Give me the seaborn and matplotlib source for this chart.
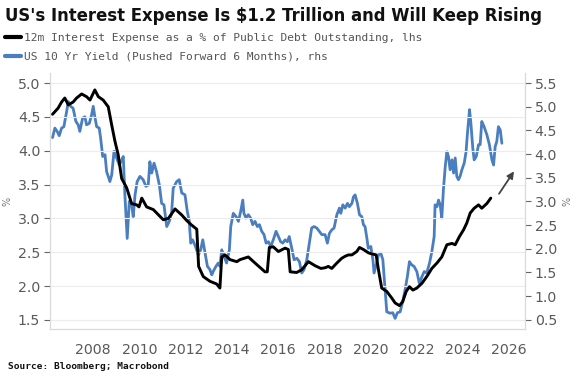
import matplotlib
matplotlib.use("Agg")
import matplotlib.pyplot as plt
import seaborn as sns
import pandas as pd
from matplotlib.lines import Line2D

# ---------------- data ----------------
black_years = [2006.24, 2006.48, 2006.63, 2006.77, 2006.92, 2007.13, 2007.28, 2007.50, 2007.71, 2007.86,
               2008.07, 2008.22, 2008.43, 2008.65, 2008.80, 2008.94, 2009.08, 2009.23, 2009.45, 2009.66,
               2009.88, 2009.98, 2010.10, 2010.31, 2010.60, 2011.03, 2011.25, 2011.54, 2011.83, 2012.04,
               2012.26, 2012.48, 2012.56, 2012.76, 2013.05, 2013.34, 2013.48, 2013.56, 2013.70, 2013.92,
               2014.21, 2014.35, 2014.71, 2015.00, 2015.43, 2015.53, 2015.62, 2015.79, 2016.01, 2016.30,
               2016.44, 2016.52, 2016.80, 2017.02, 2017.31, 2017.60, 2017.85, 2018.03, 2018.17, 2018.32,
               2018.54, 2018.75, 2018.90, 2019.04, 2019.19, 2019.40, 2019.52, 2019.69, 2019.91, 2020.12,
               2020.24, 2020.34, 2020.48, 2020.70, 2020.92, 2021.06, 2021.25, 2021.39, 2021.54, 2021.68,
               2021.83, 2022.00, 2022.22, 2022.43, 2022.65, 2022.87, 2023.08, 2023.30, 2023.52, 2023.66,
               2023.84, 2024.02, 2024.16, 2024.31, 2024.48, 2024.67, 2024.81, 2025.03, 2025.20]
black_values = [4.54, 4.63, 4.72, 4.78, 4.68, 4.72, 4.78, 4.84, 4.80, 4.75,
                4.90, 4.80, 4.75, 4.65, 4.38, 4.14, 3.94, 3.59, 3.45, 3.22,
                3.20, 3.17, 3.30, 3.17, 3.13, 2.98, 3.00, 3.14, 3.05, 2.97,
                2.90, 2.84, 2.29, 2.14, 2.07, 2.03, 1.97, 2.43, 2.46, 2.39,
                2.36, 2.39, 2.43, 2.34, 2.21, 2.21, 2.57, 2.58, 2.51, 2.56,
                2.54, 2.21, 2.20, 2.24, 2.36, 2.30, 2.26, 2.27, 2.29, 2.26,
                2.34, 2.41, 2.44, 2.46, 2.46, 2.51, 2.57, 2.54, 2.49, 2.47,
                2.46, 2.24, 1.97, 1.92, 1.82, 1.75, 1.71, 1.77, 1.92, 1.99,
                1.94, 1.97, 2.04, 2.14, 2.26, 2.34, 2.43, 2.61, 2.63, 2.61,
                2.73, 2.83, 2.93, 3.08, 3.15, 3.20, 3.15, 3.22, 3.30]

blue_years = [2006.24, 2006.34, 2006.44, 2006.53, 2006.63, 2006.73, 2006.85, 2006.92, 2007.02, 2007.13,
              2007.25, 2007.35, 2007.42, 2007.54, 2007.64, 2007.71, 2007.83, 2007.93, 2008.00, 2008.07,
              2008.15, 2008.26, 2008.32, 2008.41, 2008.51, 2008.58, 2008.65, 2008.72, 2008.80, 2008.90,
              2009.01, 2009.13, 2009.23, 2009.30, 2009.37, 2009.47, 2009.56, 2009.66, 2009.73, 2009.81,
              2009.90, 2010.02, 2010.16, 2010.28, 2010.38, 2010.45, 2010.53, 2010.63, 2010.74, 2010.86,
              2010.96, 2011.06, 2011.18, 2011.29, 2011.39, 2011.46, 2011.61, 2011.72, 2011.83, 2011.97,
              2012.07, 2012.15, 2012.22, 2012.30, 2012.40, 2012.55, 2012.65, 2012.74, 2012.84, 2012.94,
              2013.05, 2013.13, 2013.19, 2013.31, 2013.41, 2013.48, 2013.56, 2013.66, 2013.77, 2013.89,
              2013.95, 2014.06, 2014.18, 2014.28, 2014.38, 2014.47, 2014.52, 2014.61, 2014.71, 2014.81,
              2014.90, 2015.00, 2015.10, 2015.19, 2015.29, 2015.39, 2015.48, 2015.58, 2015.68, 2015.79,
              2015.91, 2016.01, 2016.11, 2016.20, 2016.30, 2016.40, 2016.48, 2016.59, 2016.69, 2016.81,
              2016.92, 2017.02, 2017.12, 2017.24, 2017.35, 2017.45, 2017.55, 2017.67, 2017.78, 2017.89,
              2018.03, 2018.13, 2018.22, 2018.32, 2018.42, 2018.54, 2018.65, 2018.71, 2018.80, 2018.90,
              2019.00, 2019.08, 2019.19, 2019.26, 2019.33, 2019.43, 2019.52, 2019.62, 2019.69, 2019.76,
              2019.84, 2019.90, 2020.01, 2020.10, 2020.15, 2020.24, 2020.34, 2020.44, 2020.53, 2020.63,
              2020.70, 2020.84, 2020.96, 2021.06, 2021.16, 2021.28, 2021.39, 2021.49, 2021.59, 2021.68,
              2021.78, 2021.88, 2022.00, 2022.11, 2022.22, 2022.32, 2022.43, 2022.55, 2022.65, 2022.75,
              2022.79, 2022.87, 2022.94, 2023.01, 2023.08, 2023.15, 2023.23, 2023.30, 2023.37, 2023.44,
              2023.52, 2023.59, 2023.66, 2023.73, 2023.80, 2023.87, 2023.95, 2024.05, 2024.13, 2024.19,
              2024.28, 2024.34, 2024.42, 2024.48, 2024.57, 2024.67, 2024.74, 2024.81, 2024.91, 2025.03,
              2025.14, 2025.25, 2025.32, 2025.39, 2025.46, 2025.53, 2025.61, 2025.68]
blue_values = [4.35, 4.55, 4.48, 4.39, 4.55, 4.58, 4.90, 5.11, 5.01, 4.97,
               4.69, 4.62, 4.48, 4.76, 4.79, 4.62, 4.65, 4.83, 5.01, 4.79,
               4.58, 4.55, 4.34, 3.95, 3.99, 3.63, 3.53, 3.42, 3.56, 4.06,
               3.92, 3.77, 3.88, 3.95, 3.14, 2.22, 3.00, 2.93, 2.68, 3.14,
               3.42, 3.53, 3.46, 3.32, 3.35, 3.84, 3.60, 3.81, 3.63, 3.35,
               2.96, 2.93, 2.47, 2.58, 2.75, 3.28, 3.42, 3.46, 3.18, 3.14,
               2.79, 2.60, 2.12, 2.19, 2.08, 1.87, 1.98, 2.19, 1.91, 1.63,
               1.56, 1.45, 1.52, 1.63, 1.70, 1.63, 1.98, 1.84, 1.70, 1.98,
               2.47, 2.75, 2.68, 2.58, 2.79, 3.03, 2.75, 2.65, 2.72, 2.65,
               2.51, 2.58, 2.47, 2.51, 2.37, 2.30, 2.12, 2.15, 2.05, 2.19,
               2.37, 2.26, 2.15, 2.12, 2.19, 2.15, 2.26, 2.01, 1.77, 1.80,
               1.73, 1.49, 1.56, 1.77, 2.12, 2.44, 2.47, 2.44, 2.37, 2.30,
               2.30, 2.12, 2.33, 2.40, 2.44, 2.72, 2.86, 2.75, 2.93, 2.86,
               2.96, 2.89, 2.96, 3.10, 3.14, 2.96, 2.72, 2.68, 2.51, 2.47,
               2.22, 2.01, 2.05, 1.77, 1.49, 1.66, 1.87, 1.91, 1.77, 1.13,
               0.67, 0.64, 0.65, 0.53, 0.65, 0.67, 0.89, 1.13, 1.41, 1.73,
               1.66, 1.63, 1.52, 1.27, 1.41, 1.52, 1.49, 1.70, 1.94, 2.26,
               2.93, 2.89, 3.03, 2.93, 2.65, 3.25, 3.74, 4.05, 3.95, 3.67,
               3.88, 3.60, 3.92, 3.53, 3.46, 3.53, 3.67, 3.81, 4.05, 4.44,
               4.94, 4.65, 4.13, 3.88, 3.95, 4.20, 4.20, 4.69, 4.58, 4.41,
               4.20, 3.88, 3.77, 4.16, 4.27, 4.58, 4.51, 4.23]

black_label = "12m Interest Expense as a % of Public Debt Outstanding, lhs"
blue_label = "US 10 Yr Yield (Pushed Forward 6 Months), rhs"
title = "US's Interest Expense Is $1.2 Trillion and Will Keep Rising"
source = "Source: Bloomberg; Macrobond"

left_ticks = [1.5, 2.0, 2.5, 3.0, 3.5, 4.0, 4.5, 5.0]
right_ticks = [0.5, 1.0, 1.5, 2.0, 2.5, 3.0, 3.5, 4.0, 4.5, 5.0, 5.5]
x_ticks = [2008, 2010, 2012, 2014, 2016, 2018, 2020, 2022, 2024, 2026]
arrow_start = (2025.49, 3.33)
arrow_end = (2026.27, 3.73)

# ---------------- styling ----------------
BLACK = "#000000"
BLUE = "#4a7ebf"
GRID = "#ececec"
SPINE = "#d9d9d9"
TICKC = "#666666"

sns.set_style("white")
plt.rcParams["font.family"] = ["DejaVu Sans"]

fig = plt.figure(figsize=(5.78, 3.81), dpi=100)
ax = fig.add_axes([50 / 578, 1 - 329.3 / 381, (525 - 50) / 578, (329.3 - 73) / 381])
ax2 = ax.twinx()

df_black = pd.DataFrame({"year": black_years, "value": black_values})
df_blue = pd.DataFrame({"year": blue_years, "value": blue_values})

sns.lineplot(data=df_blue, x="year", y="value", ax=ax2, color=BLUE, lw=2.0,
             estimator=None, sort=False, zorder=2)
sns.lineplot(data=df_black, x="year", y="value", ax=ax, color=BLACK, lw=2.1,
             estimator=None, sort=False, zorder=3)

# draw black on top of blue
ax.set_zorder(ax2.get_zorder() + 1)
ax.patch.set_visible(False)

ax.set_xlim(2006.13, 2026.68)
ax.set_ylim(1.36, 5.15)
lo, hi = ax.get_ylim()
ax2.set_ylim(0.5 + (lo - 1.5) * 5 / 3.5, 0.5 + (hi - 1.5) * 5 / 3.5)

ax.set_yticks(left_ticks)
ax.set_yticklabels([f"{v:.1f}" for v in left_ticks])
ax2.set_yticks(right_ticks)
ax2.set_yticklabels([f"{v:.1f}" for v in right_ticks])
ax.set_xticks(x_ticks)
ax.set_xticklabels([str(v) for v in x_ticks])

ax.grid(axis="y", color=GRID, lw=0.8)
ax.grid(axis="x", visible=False)
ax2.grid(False)

for a in (ax, ax2):
    a.set_xlabel("")
    a.set_ylabel("")
    a.spines["top"].set_visible(False)
    for s in ("left", "right", "bottom"):
        a.spines[s].set_color(SPINE)
        a.spines[s].set_linewidth(0.8)

ax.tick_params(axis="both", colors=TICKC, labelsize=10.2, length=4, width=0.8, direction="out")
ax.tick_params(axis="y", pad=3)
ax.tick_params(axis="x", pad=6)
ax2.tick_params(axis="y", colors=TICKC, labelsize=10.2, length=4, width=0.8, direction="out", pad=3)
for t in ax.get_xticklabels() + ax.get_yticklabels() + ax2.get_yticklabels():
    t.set_color("#5a5a5a")

ax.set_ylabel("%", color="#777777", fontsize=7, labelpad=4)
ax2.set_ylabel("%", color="#777777", fontsize=7, labelpad=4, rotation=90)

ax.annotate("", xy=arrow_end, xytext=arrow_start,
            arrowprops=dict(arrowstyle="-|>", color="#444444", lw=1.3, mutation_scale=10))

# title, legend, source
fig.text(5 / 578, 1 - 16 / 381, title, fontsize=11.9, fontweight="bold", color="#111111",
         va="center", ha="left")

handles = [Line2D([0], [0], color=BLACK, lw=3.0), Line2D([0], [0], color=BLUE, lw=3.0)]
fig.legend(handles, [black_label, blue_label], loc="upper left",
           bbox_to_anchor=(0.0, 1 - 28 / 381), frameon=False,
           prop={"family": "DejaVu Sans Mono", "size": 8.1}, labelcolor="#555555",
           handlelength=1.4, handletextpad=0.25, labelspacing=0.75, borderaxespad=0,
           borderpad=0.45)

fig.text(8 / 578, 1 - 366.7 / 381, source, fontsize=6.8, fontweight="bold",
         family="DejaVu Sans Mono", color="#111111", va="center", ha="left")

fig.savefig("out.png", dpi=100)
